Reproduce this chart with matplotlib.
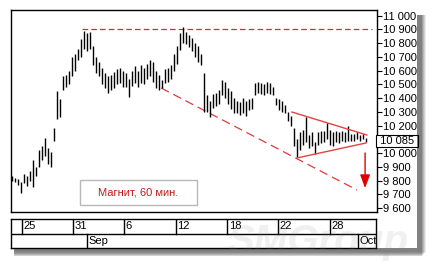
import matplotlib
matplotlib.use("Agg")
import matplotlib.pyplot as plt
from matplotlib.patches import Rectangle
from matplotlib.ticker import FixedLocator, FuncFormatter

plt.rcParams['font.family'] = ['Liberation Sans', 'DejaVu Sans']

# ---- data (hourly bars) ----
bar_low = [9800, 9790, 9770, 9710, 9780, 9760, 9800, 9750, 9830, 9900,
           9950, 9980, 9920, 9900, 10090, 10250, 10260, 10460, 10480, 10500,
           10560, 10600, 10680, 10700, 10760, 10740, 10760, 10640, 10580, 10560,
           10500, 10470, 10440, 10460, 10470, 10500, 10510, 10480, 10480, 10410,
           10490, 10510, 10480, 10510, 10500, 10540, 10560, 10520, 10470, 10460,
           10470, 10510, 10520, 10540, 10600, 10650, 10750, 10800, 10790, 10770,
           10740, 10700, 10660, 10640, 10300, 10300, 10260, 10330, 10340, 10360,
           10420, 10400, 10360, 10320, 10290, 10290, 10280, 10290, 10270, 10310,
           10320, 10420, 10440, 10430, 10420, 10440, 10430, 10420, 10350, 10310,
           10300, 10290, 10230, 10200, 10050, 9970, 10020, 10060, 10080, 10040,
           10050, 9990, 10060, 10070, 10080, 10100, 10060, 10050, 10080, 10070,
           10090, 10080, 10090, 10090, 10090, 10100, 10090, 10100, 10080]
bar_high = [9830, 9820, 9810, 9790, 9850, 9830, 9870, 9950, 9900, 10020,
            10050, 10110, 10040, 10010, 10180, 10450, 10390, 10560, 10570, 10600,
            10700, 10720, 10760, 10830, 10890, 10870, 10880, 10780, 10700, 10660,
            10620, 10580, 10560, 10570, 10590, 10610, 10620, 10600, 10580, 10540,
            10600, 10630, 10600, 10640, 10620, 10650, 10680, 10660, 10600, 10570,
            10530, 10610, 10620, 10640, 10720, 10780, 10870, 10920, 10880, 10860,
            10840, 10800, 10780, 10720, 10580, 10420, 10380, 10430, 10440, 10460,
            10530, 10520, 10470, 10450, 10400, 10380, 10370, 10400, 10380, 10390,
            10400, 10510, 10520, 10510, 10500, 10520, 10510, 10480, 10400, 10390,
            10380, 10350, 10300, 10270, 10180, 10100, 10150, 10170, 10260, 10130,
            10150, 10080, 10150, 10160, 10160, 10220, 10170, 10150, 10160, 10150,
            10160, 10150, 10200, 10140, 10140, 10150, 10130, 10140, 10110]

# price axis
price_ticks = [9600, 9700, 9800, 9900, 10000, 10100, 10200, 10300, 10400,
               10500, 10600, 10700, 10800, 10900, 11000]
last_price = 10085

# date axis (positions in bar numbers)
day_pos = [3.2, 20.3, 37.5, 54.7, 72.0, 89.0, 106.3]
day_labels = ["25", "31", "6", "12", "18", "22", "28"]
month_pos = [25.0, 115.7]
month_labels = ["Sep", "Oct"]

# drawn analysis lines: (x0, y0, x1, y1) in bar numbers / prices
resistance = (23.3, 10900, 120.0, 10900)
channel_low = (49.7, 10473, 115.0, 9731)
tri_upper = (93.3, 10298, 118.3, 10131)
tri_lower = (95.0, 9964, 118.0, 10073)
target_arrow = (117.7, 10000, 117.7, 9745)

title_text = "Магнит, 60 мин."

# ---- figure ----
W, H = 432, 264
fig = plt.figure(figsize=(W / 100, H / 100), dpi=100)
fig.patch.set_facecolor("white")


def fr(x0, y0, x1, y1):
    # pixel box (top-left origin) -> figure fraction rect
    return [x0 / W, 1 - y1 / H, (x1 - x0) / W, (y1 - y0) / H]


# soft shadow of the panel
for k, a in enumerate([0.08, 0.10, 0.12, 0.14, 0.18]):
    off = 4 - k
    fig.patches.append(Rectangle((417 / W, 1 - (256 - off) / H), (5 + off) / W, (241 - off) / H,
                                 transform=fig.transFigure, facecolor="black", alpha=a,
                                 edgecolor="none", zorder=0))
    fig.patches.append(Rectangle((14 / W, 1 - (256 - off) / H), 403 / W, (8 - off) / H,
                                 transform=fig.transFigure, facecolor="black", alpha=a,
                                 edgecolor="none", zorder=0))

ax = fig.add_axes(fr(11, 10, 377, 212))
x = list(range(len(bar_low)))
ax.vlines(x, bar_low, bar_high, color="black", lw=1.0, zorder=3)

ax.plot([resistance[0], resistance[2]], [resistance[1], resistance[3]],
        color="#d03030", lw=0.9, dashes=(4.5, 2.5), zorder=2)
ax.plot([channel_low[0], channel_low[2]], [channel_low[1], channel_low[3]],
        color="#e03a3a", lw=0.9, dashes=(7, 4), zorder=2)
ax.plot([tri_upper[0], tri_upper[2]], [tri_upper[1], tri_upper[3]], color="#e84040", lw=1.0, zorder=4)
ax.plot([tri_lower[0], tri_lower[2]], [tri_lower[1], tri_lower[3]], color="#e84040", lw=1.0, zorder=4)
ax.annotate("", xy=(target_arrow[2], target_arrow[3]), xytext=(target_arrow[0], target_arrow[1]),
            arrowprops=dict(arrowstyle="-|>,head_length=0.8,head_width=0.3", color="#e00000", lw=1.0,
                            shrinkA=0, shrinkB=0), zorder=4)

ax.set_xlim(-0.33, 121.67)
ax.set_ylim(9571, 11040)
ax.set_xticks([])
ax.yaxis.tick_right()
ax.yaxis.set_major_locator(FixedLocator(price_ticks))
ax.yaxis.set_major_formatter(FuncFormatter(
    lambda v, p: "" if v == 10100 else "{:,}".format(int(v)).replace(",", " ")))
ax.tick_params(axis="y", direction="out", length=3.5, width=0.8, pad=1, labelsize=8, colors="black")
for s in ax.spines.values():
    s.set_linewidth(1.0)

# last price box on the scale
ax.text(121.67, last_price, " " + "{:,}".format(last_price).replace(",", " ") + " ",
        ha="left", va="center", fontsize=8, clip_on=False,
        bbox=dict(boxstyle="square,pad=0.08", facecolor="white", edgecolor="black", lw=0.8))

# label box
fig.text((80 + 197) / 2 / W, 1 - 192.5 / H, title_text, color="#c41818", fontsize=8,
         ha="center", va="center")
fig.patches.append(Rectangle((80 / W, 1 - 205 / H), 117 / W, 25 / H, transform=fig.transFigure,
                             facecolor="none", edgecolor="#b8b8b8", lw=1.0, zorder=5))

# date axis
dax = fig.add_axes(fr(11, 219, 376, 248))
dax.set_xlim(-0.33, 121.67)
dax.set_ylim(0, 2)
dax.axhline(1, color="black", lw=1.0)
for p, lab in zip(day_pos, day_labels):
    dax.plot([p, p], [1, 2], color="black", lw=1.0)
    dax.text(p + 0.5, 1.5, lab, fontsize=8, ha="left", va="center")
for p, lab in zip(month_pos, month_labels):
    dax.plot([p, p], [0, 1], color="black", lw=1.0)
    dax.text(p + 0.5, 0.5, lab, fontsize=8, ha="left", va="center", clip_on=True)
dax.set_xticks([])
dax.set_yticks([])
for s in dax.spines.values():
    s.set_linewidth(1.0)

# watermark
fig.text(318 / W, 1 - 242 / H, "SMGroup", fontsize=29, fontweight="bold", fontstyle="italic",
         color="#888888", alpha=0.12, ha="center", va="center", zorder=10)

fig.savefig("out.png", dpi=100, facecolor="white")
